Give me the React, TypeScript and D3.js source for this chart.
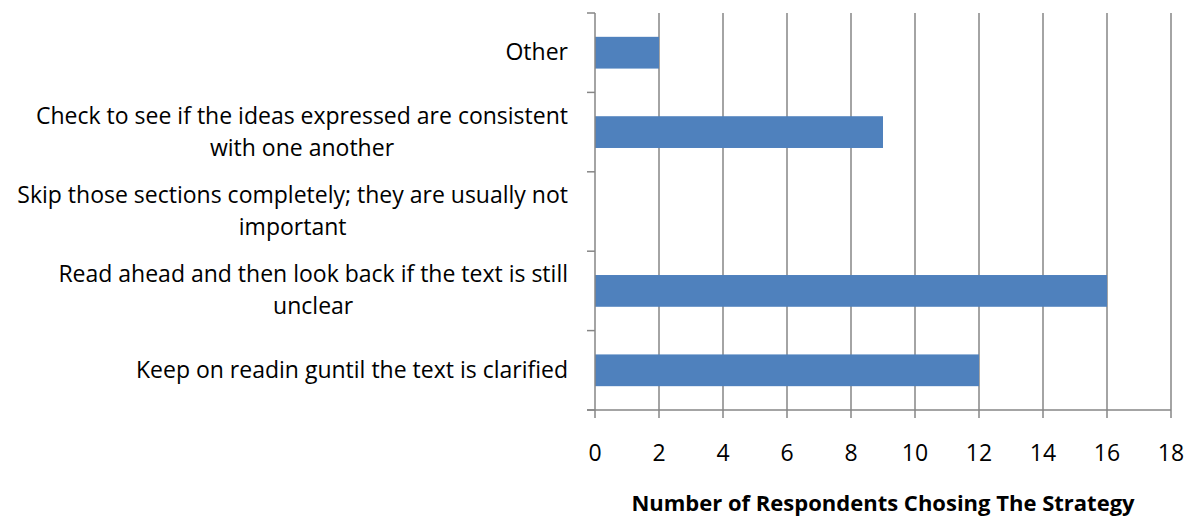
import React from "react";
import * as d3 from "d3";

const categories = [
  "Other",
  "Check to see if the ideas expressed are consistent|with one another",
  "Skip those sections completely; they are usually not|important",
  "Read ahead and then look back if the text is still|unclear",
  "Keep on readin guntil the text is clarified",
];
const respondents = [2, 9, 0, 16, 12];
const xTicks = [0, 2, 4, 6, 8, 10, 12, 14, 16, 18];
const axisTitle = "Number of Respondents Chosing The Strategy";

const W = 1189;
const H = 517;
const left = 595;
const right = 1171;
const top = 13;
const bottom = 410;
const FONT = "'Open Sans', sans-serif";
const LABEL_SIZE = 23;
const TITLE_SIZE = 22;
const GRID = "#868686";
const BAR = "#4F81BD";

let ctx: CanvasRenderingContext2D | null = null;
function textWidth(s: string, size: number, weight = "normal") {
  if (!ctx) ctx = document.createElement("canvas").getContext("2d");
  if (!ctx) return s.length * size * 0.5;
  ctx.font = `${weight} ${size}px ${FONT}`;
  return ctx.measureText(s).width;
}

export default function App() {
  const x = d3.scaleLinear().domain([0, 18]).range([left, right]);
  const y = d3
    .scaleBand<string>()
    .domain(categories)
    .range([top, bottom])
    .paddingInner(0.6)
    .paddingOuter(0.3);
  const step = y.step();
  const boundaries = d3.range(categories.length + 1).map((i) => top + i * step);
  const labelRight = 568;

  return (
    <svg
      width={W}
      height={H}
      style={{ position: "absolute", left: 0, top: 0, background: "#fff" }}
      fontFamily={FONT}
    >
      {/* vertical gridlines */}
      {xTicks
        .filter((t) => t > 0)
        .map((t) => (
          <line key={"g" + t} x1={x(t)} x2={x(t)} y1={top} y2={bottom} stroke={GRID} strokeWidth={1.5} />
        ))}

      {/* bars */}
      {categories.map((c, i) =>
        respondents[i] > 0 ? (
          <rect
            key={"b" + i}
            x={x(0)}
            y={y(c)!}
            width={x(respondents[i]) - x(0)}
            height={y.bandwidth()}
            fill={BAR}
          />
        ) : null
      )}

      {/* category axis */}
      <line x1={left} x2={left} y1={top} y2={bottom} stroke={GRID} strokeWidth={1.5} />
      {boundaries.map((b, i) => (
        <line key={"yt" + i} x1={left - 8} x2={left} y1={b} y2={b} stroke={GRID} strokeWidth={1.5} />
      ))}

      {/* value axis */}
      <line x1={left - 8} x2={right} y1={bottom} y2={bottom} stroke={GRID} strokeWidth={1.5} />
      {xTicks.map((t) => (
        <line key={"xt" + t} x1={x(t)} x2={x(t)} y1={bottom} y2={bottom + 8} stroke={GRID} strokeWidth={1.5} />
      ))}
      {xTicks.map((t) => (
        <text key={"xl" + t} x={x(t)} y={461} textAnchor="middle" fontSize={LABEL_SIZE} fill="#000">
          {t}
        </text>
      ))}

      {/* category labels: block right-aligned, lines centred within the block */}
      {categories.map((c, i) => {
        const lines = c.split("|");
        const blockW = Math.max(...lines.map((l) => textWidth(l, LABEL_SIZE)));
        const cx = labelRight - blockW / 2;
        const cy = y(c)! + y.bandwidth() / 2;
        const lh = 32;
        const y0 = cy - ((lines.length - 1) * lh) / 2 + 7.5;
        return (
          <text key={"cl" + i} fontSize={LABEL_SIZE} fill="#000" textAnchor="middle">
            {lines.map((l, j) => (
              <tspan key={j} x={cx} y={y0 + j * lh}>
                {l}
              </tspan>
            ))}
          </text>
        );
      })}

      <text x={883} y={511} textAnchor="middle" fontSize={TITLE_SIZE} fontWeight="bold" fill="#000">
        {axisTitle}
      </text>
    </svg>
  );
}
